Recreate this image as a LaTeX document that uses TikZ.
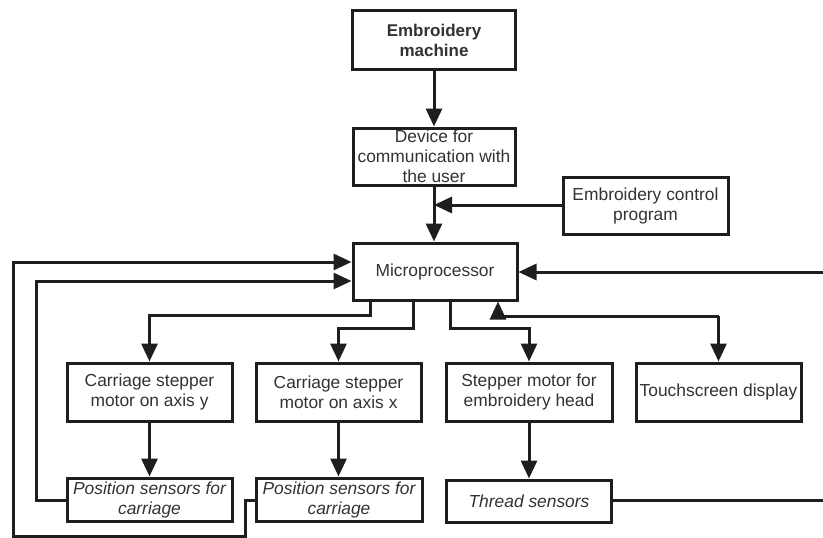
\documentclass[tikz,border=0pt]{standalone}
\usepackage{fontspec}
\setmainfont{Liberation Sans}
\usetikzlibrary{arrows.meta}
\definecolor{ink}{HTML}{1E1E1E}
\definecolor{txt}{HTML}{333333}
\tikzset{
  box/.style={draw=ink, line width=3pt, fill=white, inner sep=0pt, align=center,
    text=txt, font=\fontsize{17.4}{20}\selectfont},
  wire/.style={draw=ink, line width=3pt},
  arr/.style={wire, -{Triangle[length=18pt,width=16pt]}},
}
\begin{document}
\begin{tikzpicture}[x=1pt,y=-1pt]
\useasboundingbox (0,0) rectangle (823,538);
\fill[white] (0,0) rectangle (823,538);
% nodes
\node[box, minimum width=163pt, minimum height=59pt, font=\fontsize{17}{20}\selectfont\bfseries] (em) at (434,40) {Embroidery\\machine};
\node[box, minimum width=162pt, minimum height=57pt] (dev) at (434,156.5) {Device for\\communication with\\the user};
\node[box, minimum width=165pt, minimum height=57pt] (ecp) at (645.5,205.5) {Embroidery control\\program};
\node[box, minimum width=164pt, minimum height=57pt] (mp) at (435,271.5) {Microprocessor};
\node[box, minimum width=165pt, minimum height=58pt] (cy) at (149.5,392) {Carriage stepper\\motor on axis y};
\node[box, minimum width=165pt, minimum height=58pt] (cx) at (338.5,392) {Carriage stepper\\motor on axis x};
\node[box, minimum width=166pt, minimum height=58pt] (sh) at (529,392) {Stepper motor for\\embroidery head};
\node[box, minimum width=165pt, minimum height=58pt] (td) at (718.5,392) {Touchscreen display};
\node[box, minimum width=165pt, minimum height=43pt, font=\fontsize{17.4}{20}\selectfont\itshape] (py) at (149.5,499.5) {Position sensors for\\carriage};
\node[box, minimum width=166pt, minimum height=43pt, font=\fontsize{17.4}{20}\selectfont\itshape] (px) at (339,499.5) {Position sensors for\\carriage};
\node[box, minimum width=165pt, minimum height=42pt, font=\fontsize{17.4}{20}\selectfont\itshape] (ths) at (529,501) {Thread sensors};
% free ends
\coordinate (rin) at (823,272);
\coordinate (rout) at (823,500);
\coordinate (j) at (434,205);
% connectors
\draw[arr] (em.south -| 434,0) -- (dev.north -| 434,0);
\draw[arr] (dev.south -| 434,0) -- (mp.north -| 434,0);
\draw[arr] (ecp.west |- j) -- (j);
\draw[arr] (rin) -- (mp.east |- rin);
\draw[arr] (mp.south -| 370,0) |- (149.5,315) -- (cy.north);
\draw[arr] (mp.south -| 413,0) |- (338.5,328) -- (cx.north);
\draw[arr] (mp.south -| 450,0) |- (529,328) -- (sh.north);
\draw[arr] (718.5,316) -- (td.north);
\draw[arr] (718.5,316) -| (mp.south -| 498,0);
\draw[arr] (cy) -- (py);
\draw[arr] (cx.south) -- (px.north -| cx.south);
\draw[arr] (sh) -- (ths);
\draw[wire] (ths.east |- rout) -- (rout);
\draw[arr] (py.west |- 0,500) -| (36,281) -- (mp.west |- 0,281);
\draw[arr] (px.west |- 0,500) -- (245,500) -- (245,536) -| (13,262) -- (mp.west |- 0,262);
\end{tikzpicture}
\end{document}
